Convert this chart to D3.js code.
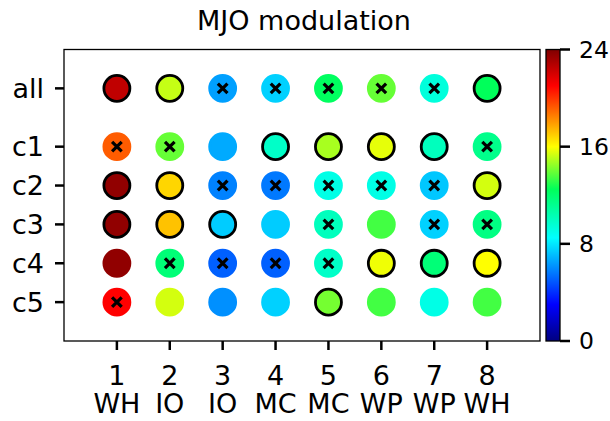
<!DOCTYPE html>
<html><head><meta charset="utf-8">
<script src="https://cdn.jsdelivr.net/npm/d3@7"></script>
<style>body{margin:0;background:#fff}svg{display:block;font-family:"DejaVu Sans",sans-serif}</style>
</head><body><svg id="c" width="610" height="421"></svg>
<script>
// ---- data ----
const categories = ["all","c1","c2","c3","c4","c5"];
const categoryPos = [-0.5,1,2,3,4,5];
const phases = [1,2,3,4,5,6,7,8];
const phaseRegions = ["WH","IO","IO","MC","MC","WP","WP","WH"];
const valAll = [22.5,15.2,6.45,7.5,12.35,13.9,9.35,12.5];
const valC1  = [19.2,13.9,6.67,9.83,14.8,15.65,10.1,11.3];
const valC2  = [23.6,16.8,5.8,5.6,9.1,9.1,7.3,15.4];
const valC3  = [23.6,17.2,7.4,7.4,10.1,13.4,7.5,11.5];
const valC4  = [23.6,11.8,5.07,5.07,9.83,15.8,11.8,16.0];
const valC5  = [21.0,15.4,6.1,7.5,14.1,13.4,9.1,13.4];
// 1 = black outline
const edgeAll = [1,1,0,0,0,0,0,1];
const edgeC1  = [0,0,0,1,1,1,1,0];
const edgeC2  = [1,1,0,0,0,0,0,1];
const edgeC3  = [1,1,1,0,0,0,0,0];
const edgeC4  = [0,0,0,0,0,1,1,1];
const edgeC5  = [0,0,0,0,1,0,0,0];
// 1 = cross marker
const crossAll = [0,0,1,1,1,1,1,0];
const crossC1  = [1,1,0,0,0,0,0,1];
const crossC2  = [0,0,1,1,1,1,1,0];
const crossC3  = [0,0,0,0,1,0,1,1];
const crossC4  = [0,1,1,1,1,0,0,0];
const crossC5  = [1,0,0,0,0,0,0,0];
const colorTicks = [0,8,16,24];
const cmapStops = [0,3,8.5,12.5,16,21,24];
const cmapColors = ["#000080","#0000ff","#00ffff","#00ff5a","#ffff00","#ff0000","#800000"];

const values = [valAll,valC1,valC2,valC3,valC4,valC5];
const edges = [edgeAll,edgeC1,edgeC2,edgeC3,edgeC4,edgeC5];
const crosses = [crossAll,crossC1,crossC2,crossC3,crossC4,crossC5];

// ---- layout ----
const L=64, R=540, T=49.5, B=341;
const svg = d3.select("#c");
const x = d3.scaleLinear().domain([0,9]).range([L,R]);
const y = d3.scaleLinear().domain([-1.5,6]).range([T,B]);
const color = d3.scaleLinear().domain(cmapStops).range(cmapColors).interpolate(d3.interpolateRgb).clamp(true);

// title
svg.append("text").attr("x",(L+R)/2+2).attr("y",30).attr("text-anchor","middle")
  .attr("font-size",27).text("MJO modulation");

// frame
svg.append("rect").attr("x",L).attr("y",T).attr("width",R-L).attr("height",B-T)
  .attr("fill","none").attr("stroke","#000").attr("stroke-width",1.3);

// y axis
const yAx = svg.append("g");
categories.forEach((c,i)=>{
  const yy=y(categoryPos[i]);
  yAx.append("line").attr("x1",L-9).attr("x2",L).attr("y1",yy).attr("y2",yy).attr("stroke","#000").attr("stroke-width",2.5);
  yAx.append("text").attr("x",L-20).attr("y",yy).attr("dy","0.36em").attr("text-anchor","end").attr("font-size",27).text(c);
});
// x axis
const xAx = svg.append("g");
phases.forEach((p,i)=>{
  const xx=x(p);
  xAx.append("line").attr("x1",xx).attr("x2",xx).attr("y1",B).attr("y2",B+9).attr("stroke","#000").attr("stroke-width",2.5);
  xAx.append("text").attr("x",xx).attr("y",385).attr("text-anchor","middle").attr("font-size",27).text(p);
  xAx.append("text").attr("x",xx).attr("y",413).attr("text-anchor","middle").attr("font-size",27).text(phaseRegions[i]);
});

// points
const pts=[];
values.forEach((row,ri)=>row.forEach((v,ci)=>pts.push({r:ri,c:ci,v,edge:edges[ri][ci],cross:crosses[ri][ci]})));
const g = svg.append("g");
g.selectAll("circle").data(pts).join("circle")
  .attr("cx",d=>x(phases[d.c])).attr("cy",d=>y(categoryPos[d.r])).attr("r",13)
  .attr("fill",d=>color(d.v)).attr("stroke",d=>d.edge?"#000":color(d.v)).attr("stroke-width",2.8);
const cs=4.8;
g.selectAll("path.x").data(pts.filter(d=>d.cross)).join("path").attr("class","x")
  .attr("d",d=>{const cx=x(phases[d.c]),cy=y(categoryPos[d.r]);return `M${cx-cs},${cy-cs}L${cx+cs},${cy+cs}M${cx-cs},${cy+cs}L${cx+cs},${cy-cs}`;})
  .attr("stroke","#000").attr("stroke-width",3.2).attr("fill","none");

// colorbar
const CL=546, CR=560;
const cy = d3.scaleLinear().domain([0,24]).range([B,T]);
const defs=svg.append("defs");
const grad=defs.append("linearGradient").attr("id","cb").attr("x1",0).attr("x2",0).attr("y1",1).attr("y2",0);
d3.range(0,24.01,0.5).forEach(v=>grad.append("stop").attr("offset",v/24).attr("stop-color",color(v)));
svg.append("rect").attr("x",CL).attr("y",T).attr("width",CR-CL).attr("height",B-T).attr("fill","url(#cb)")
  .attr("stroke","#000").attr("stroke-width",1.3);
colorTicks.forEach(t=>{
  const yy=cy(t);
  svg.append("line").attr("x1",CR).attr("x2",CR+10).attr("y1",yy).attr("y2",yy).attr("stroke","#000").attr("stroke-width",2.5);
  svg.append("text").attr("x",CR+19).attr("y",yy).attr("dy","0.36em").attr("font-size",23.5).text(t);
});
</script></body></html>
